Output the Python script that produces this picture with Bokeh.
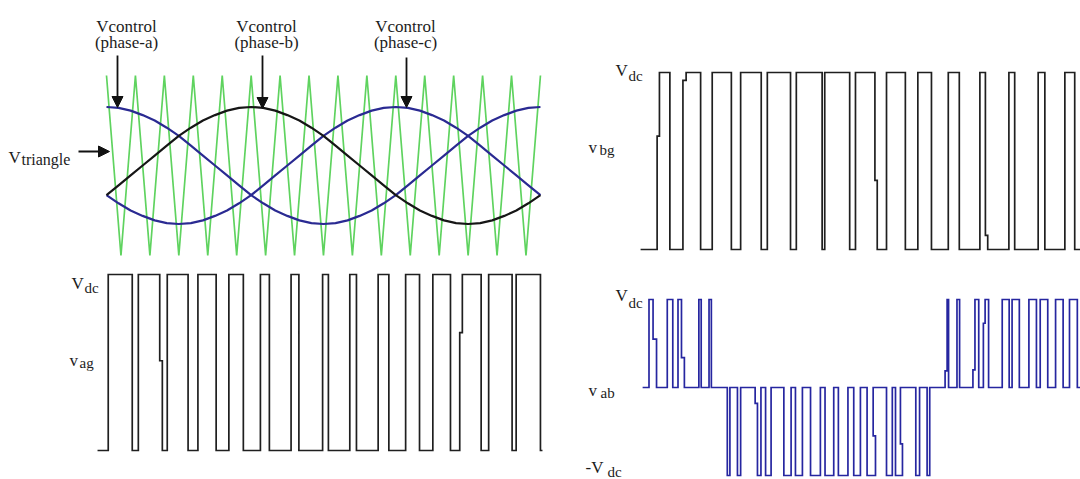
from bokeh.plotting import figure
from bokeh.layouts import row, column
from bokeh.models import Range1d, Label, Arrow, NormalHead
from bokeh.embed import file_html
from bokeh.resources import INLINE

# ---------------- data (time in carrier periods) ----------------
carrier_peaks = [0, 1, 2, 3, 4, 5, 6, 7, 8, 9, 10, 11, 12, 13, 14, 15]
carrier_valleys = [0.5, 1.5, 2.5, 3.5, 4.5, 5.5, 6.5, 7.5, 8.5, 9.5, 10.5, 11.5, 12.5, 13.5, 14.5]
carrier_high = 1.0
carrier_low = -1.0

ctrl_span = 15.0
phase_a = [0.65, 0.64, 0.61, 0.56, 0.50, 0.42, 0.33, 0.22, 0.11, 0.0, -0.11, -0.22,
           -0.33, -0.42, -0.50, -0.56, -0.61, -0.64, -0.65, -0.64, -0.61, -0.56, -0.50, -0.42,
           -0.33, -0.22, -0.11, 0.0, 0.11, 0.22, 0.33, 0.42, 0.50, 0.56, 0.61, 0.64, 0.65]
phase_b = [-0.33, -0.22, -0.11, 0.0, 0.11, 0.22, 0.33, 0.42, 0.50, 0.56, 0.61, 0.64,
           0.65, 0.64, 0.61, 0.56, 0.50, 0.42, 0.33, 0.22, 0.11, 0.0, -0.11, -0.22,
           -0.33, -0.42, -0.50, -0.56, -0.61, -0.64, -0.65, -0.64, -0.61, -0.56, -0.50, -0.42, -0.33]
phase_c = [-0.33, -0.42, -0.50, -0.56, -0.61, -0.64, -0.65, -0.64, -0.61, -0.56, -0.50, -0.42,
           -0.33, -0.22, -0.11, 0.0, 0.11, 0.22, 0.33, 0.42, 0.50, 0.56, 0.61, 0.64,
           0.65, 0.64, 0.61, 0.56, 0.50, 0.42, 0.33, 0.22, 0.11, 0.0, -0.11, -0.22, -0.33]

# v_ag pulses
ag_rise = [0.06, 1.10, 2.10, 3.16, 4.23, 5.32, 6.38, 7.47, 8.41, 9.39, 10.34, 11.28, 12.30, 13.21, 14.16]
ag_fall = [0.89, 1.84, 2.82, 3.79, 4.73, 5.63, 6.65, 7.67, 8.64, 9.76, 10.82, 11.89, 12.95, 14.02, 15.00]
ag_rise_jogs = {12: (0.67, 12.21)}
ag_fall_jogs = {1: (0.51, 1.93)}
ag_span = (-0.31, 15.07)

# v_bg pulses
bg_rise = [0.36, 1.28, 2.18, 3.16, 4.08, 5.08, 6.06, 7.12, 8.19, 9.27, 10.32, 11.41, 12.41, 13.42, 14.34]
bg_fall = [0.72, 1.78, 2.84, 3.87, 4.88, 5.97, 6.92, 7.79, 8.84, 9.74, 10.70, 11.60, 12.61, 13.65, 14.68]
bg_rise_jogs = {0: (0.64, 0.28), 1: (0.955, 1.17)}
bg_fall_jogs = {7: (0.39, 7.87), 11: (0.08, 11.68)}
bg_span = (-0.29, 16.0)

# v_ab pulses (positive and negative)
ab_pos_rise = [0.00, 0.63, 1.00, 1.72, 2.07, 10.28, 10.62, 11.24, 11.59, 12.18, 12.52, 13.10, 13.49, 14.02, 14.50]
ab_pos_fall = [0.14, 0.82, 1.12, 1.80, 2.15, 10.33, 10.71, 11.37, 11.71, 12.42, 12.77, 13.36, 13.75, 14.28, 14.77]
ab_pos_rise_jogs = {5: (0.19, 10.21), 7: (0.20, 11.17), 8: (0.73, 11.53)}
ab_pos_fall_jogs = {0: (0.55, 0.26), 2: (0.34, 1.22)}
ab_neg_start = [2.70, 3.05, 3.74, 4.02, 4.65, 5.05, 5.57, 6.07, 6.53, 7.06, 7.52, 8.19, 8.50, 9.20, 9.59]
ab_neg_end = [2.79, 3.16, 3.86, 4.21, 4.90, 5.29, 5.91, 6.37, 6.86, 7.29, 7.81, 8.39, 8.74, 9.33, 9.68]
ab_neg_start_jogs = {2: (0.18, 3.66)}
ab_neg_end_jogs = {10: (0.55, 7.73), 12: (0.64, 8.67)}
ab_span = (-0.22, 16.0)

SERIF = "'Liberation Serif', 'Times New Roman', serif"
TXT = "#1c1c1c"


def make_fig(box, xmap, ymap):
    left, top, right, bottom = box
    x0, sx = xmap
    y0, sy = ymap
    p = figure(width=right - left, height=bottom - top,
               x_range=Range1d((left - x0) / sx, (right - x0) / sx),
               y_range=Range1d((y0 - bottom) / sy, (y0 - top) / sy),
               output_backend="svg", toolbar_location=None, title=None,
               min_border=0, x_axis_location=None, y_axis_location=None,
               background_fill_color="white", border_fill_color="white",
               outline_line_color=None)
    p.grid.visible = False

    def fx(px):
        return (px - x0) / sx

    def fy(py):
        return (y0 - py) / sy
    return p, fx, fy


def label(p, fx, fy, px, py, text, size, align="left"):
    p.add_layout(Label(x=fx(px), y=fy(py), text=text, text_font=SERIF,
                       text_font_size=f"{size}px", text_color=TXT,
                       text_align=align, text_baseline="alphabetic"))


def sub_label(p, fx, fy, px, py, main, sub, sub_px, sub_py, size=17, sub_size=15):
    label(p, fx, fy, px, py, main, size)
    label(p, fx, fy, sub_px, sub_py, sub, sub_size)


def arrow(p, fx, fy, x1, y1, x2, y2):
    p.add_layout(Arrow(end=NormalHead(size=11, fill_color="#111111", line_color="#111111"),
                       x_start=fx(x1), y_start=fy(y1), x_end=fx(x2), y_end=fy(y2),
                       line_color="#111111", line_width=1.8))


def pulses(items, span):
    """items: list of (start, end, sign, start_jog, end_jog)."""
    xs, ys = [span[0]], [0.0]
    for s, e, sg, sj, ej in sorted(items, key=lambda it: it[0]):
        if sj is not None:
            L, tb = sj
            xs += [tb, tb, s, s]
            ys += [0.0, sg * L, sg * L, sg]
        else:
            xs += [s, s]
            ys += [0.0, sg]
        if ej is not None:
            L, tb = ej
            xs += [e, e, tb, tb]
            ys += [sg, sg * L, sg * L, 0.0]
        else:
            xs += [e, e]
            ys += [sg, 0.0]
    xs.append(span[1])
    ys.append(0.0)
    return xs, ys


def items_of(starts, ends, sign, sjogs, ejogs):
    return [(s, e, sign, sjogs.get(i), ejogs.get(i)) for i, (s, e) in enumerate(zip(starts, ends))]


# ---------------- top-left: carrier + control signals ----------------
f1, fx1, fy1 = make_fig((0, 0, 580, 264), (106, 28.93), (165, 90))
tri = sorted([(t, carrier_high) for t in carrier_peaks] + [(t, carrier_low) for t in carrier_valleys])
f1.line([a for a, b in tri], [b for a, b in tri], line_color="#5fd35f", line_width=1.7)
n = len(phase_a)
ctrl_t = [ctrl_span * i / (n - 1) for i in range(n)]
f1.line(ctrl_t, phase_a, line_color="#2a2a92", line_width=2.2)
f1.line(ctrl_t, phase_c, line_color="#2a2a92", line_width=2.2)
f1.line(ctrl_t, phase_b, line_color="#161616", line_width=2.2)

for cx, ph in [(126, "(phase-a)"), (266, "(phase-b)"), (405, "(phase-c)")]:
    label(f1, fx1, fy1, cx, 26, "Vcontrol", 17, "center")
    label(f1, fx1, fy1, cx, 42, ph, 17, "center")
arrow(f1, fx1, fy1, 117, 55, 117, 107)
arrow(f1, fx1, fy1, 262, 55, 262, 108)
arrow(f1, fx1, fy1, 406, 57, 406, 107)
sub_label(f1, fx1, fy1, 8, 157, "V", "triangle", 21, 159, 17, 16)
arrow(f1, fx1, fy1, 78, 151, 109, 151)

# ---------------- bottom-left: v_ag ----------------
f2, fx2, fy2 = make_fig((0, 264, 580, 479), (106, 28.93), (450, 176))
xs, ys = pulses(items_of(ag_rise, ag_fall, 1, ag_rise_jogs, ag_fall_jogs), ag_span)
f2.line(xs, ys, line_color="#1f1f1f", line_width=1.7, line_join="miter")
sub_label(f2, fx2, fy2, 71, 283, "V", "dc", 84, 287)
sub_label(f2, fx2, fy2, 69, 360, "v", "ag", 79, 362)

# ---------------- top-right: v_bg ----------------
f3, fx3, fy3 = make_fig((580, 0, 1080, 264), (648.5, 29.0), (249, 177))
xs, ys = pulses(items_of(bg_rise, bg_fall, 1, bg_rise_jogs, bg_fall_jogs), bg_span)
f3.line(xs, ys, line_color="#1f1f1f", line_width=1.7, line_join="miter")
sub_label(f3, fx3, fy3, 615, 70, "V", "dc", 628, 75)
sub_label(f3, fx3, fy3, 588, 147, "v", "bg", 599, 149)

# ---------------- bottom-right: v_ab ----------------
f4, fx4, fy4 = make_fig((580, 264, 1080, 479), (648.5, 29.0), (387, 88))
items = items_of(ab_pos_rise, ab_pos_fall, 1, ab_pos_rise_jogs, ab_pos_fall_jogs) + \
    items_of(ab_neg_start, ab_neg_end, -1, ab_neg_start_jogs, ab_neg_end_jogs)
xs, ys = pulses(items, ab_span)
f4.line(xs, ys, line_color="#2626a0", line_width=1.7, line_join="miter")
sub_label(f4, fx4, fy4, 615, 295, "V", "dc", 628, 302)
sub_label(f4, fx4, fy4, 588, 390, "v", "ab", 600, 392)
sub_label(f4, fx4, fy4, 585, 467, "-V", "dc", 607, 471)

layout = row(column(f1, f2), column(f3, f4))
open("out.html", "w").write(file_html(layout, INLINE))
